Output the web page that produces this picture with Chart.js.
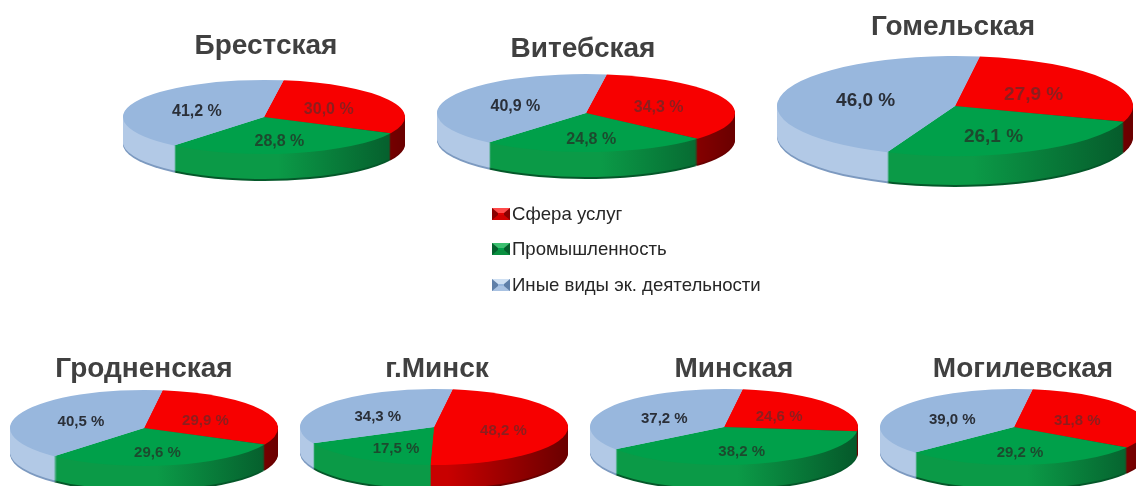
<!DOCTYPE html>
<html lang="ru">
<head>
<meta charset="utf-8">
<title>Структура по регионам</title>
<script src="https://cdn.jsdelivr.net/npm/chart.js@4.4.1/dist/chart.umd.min.js"></script>
<style>
    html, body { margin: 0; padding: 0; background: #fff; }
    body { width: 1136px; height: 486px; position: relative; overflow: hidden; font-family: "Liberation Sans", Arial, sans-serif; }
    .pie { position: absolute; }
    .title { position: absolute; width: 300px; text-align: center; font-weight: bold; font-size: 28px; line-height: 28px; color: #404040; z-index: 3; white-space: nowrap; }
    .legend-row { position: absolute; left: 492px; height: 24px; display: flex; align-items: center; font-size: 18.6px; color: #262626; z-index: 5; white-space: nowrap; }
    .swatch { width: 6px; height: 2px; border-style: solid; border-width: 5px 6px; margin-right: 2px; }
</style>
</head>
<body>
<script>
// Share of employment by sector, per region (%)
const regions = ['Брестская', 'Витебская', 'Гомельская', 'Гродненская', 'г.Минск', 'Минская', 'Могилевская'];
const categories = ['Сфера услуг', 'Промышленность', 'Иные виды эк. деятельности'];
const services = [30.0, 34.3, 27.9, 29.9, 48.2, 24.6, 31.8];
const industry = [28.8, 24.8, 26.1, 29.6, 17.5, 38.2, 29.2];
const other = [41.2, 40.9, 46.0, 40.5, 34.3, 37.2, 39.0];

const topColors = ['#f70000', '#00a04a', '#98b7dd'];
const sideLight = ['#c80000', '#0b9a47', '#b2c9e6'];
const sideDark = ['#6a0000', '#05582a', '#7d9ac0'];
const labelColors = ['#8c1e1e', '#1c4a2e', '#2a2f38'];

// where each pie sits on the page
const layout = [
    { cx: 264, cy: 117, rx: 141, ry: 37, depth: 27, font: 16, titleX: 266, titleY: 55 },
    { cx: 586, cy: 113, rx: 149, ry: 39, depth: 27, font: 16, titleX: 583, titleY: 58 },
    { cx: 955, cy: 106, rx: 178, ry: 50, depth: 31, font: 19, titleX: 953, titleY: 36 },
    { cx: 144, cy: 428, rx: 134, ry: 38, depth: 26, font: 15, titleX: 144, titleY: 378 },
    { cx: 434, cy: 427, rx: 134, ry: 38, depth: 26, font: 15, titleX: 437, titleY: 378 },
    { cx: 724, cy: 427, rx: 134, ry: 38, depth: 26, font: 15, titleX: 734, titleY: 378 },
    { cx: 1014, cy: 427, rx: 134, ry: 38, depth: 26, font: 15, titleX: 1023, titleY: 378 }
];

const fmt = v => v.toFixed(1).replace('.', ',') + ' %';

// Squash the pie into an ellipse and give it a side wall
const pie3d = {
    id: 'pie3d',
    beforeDatasetsDraw(chart, args, opts) {
        const ctx = chart.ctx;
        const arcs = chart.getDatasetMeta(0).data;
        const cx = arcs[0].x, cy = arcs[0].y, r = arcs[0].outerRadius;
        const k = opts.tilt;
        ctx.save();
        ctx.translate(cx, cy);
        ctx.scale(1, k);
        ctx.translate(-cx, -cy);

        const fills = arcs.map((arc, i) => {
            const g = ctx.createLinearGradient(cx - r, 0, cx + r, 0);
            g.addColorStop(0, sideLight[i]);
            g.addColorStop(0.55, sideLight[i]);
            g.addColorStop(1, sideDark[i]);
            return g;
        });

        for (let d = opts.depth; d >= 1; d--) {
            ctx.save();
            ctx.translate(0, d / k);
            arcs.forEach((arc, i) => {
                ctx.beginPath();
                ctx.moveTo(arc.x, arc.y);
                ctx.arc(arc.x, arc.y, arc.outerRadius, arc.startAngle, arc.endAngle);
                ctx.closePath();
                ctx.fillStyle = d > opts.depth - 2 ? sideDark[i] : fills[i];
                ctx.fill();
            });
            ctx.restore();
        }
    },
    afterDatasetsDraw(chart, args, opts) {
        const ctx = chart.ctx;
        ctx.restore();
        const arcs = chart.getDatasetMeta(0).data;
        const values = chart.data.datasets[0].data;
        ctx.save();
        ctx.font = `bold ${opts.font}px "Liberation Sans", Arial, sans-serif`;
        ctx.textAlign = 'center';
        ctx.textBaseline = 'middle';
        arcs.forEach((arc, i) => {
            const mid = (arc.startAngle + arc.endAngle) / 2;
            const rr = arc.outerRadius * 0.52;
            const s = Math.sin(mid);
            const x = arc.x + Math.cos(mid) * rr;
            // front of the pie looks a bit closer, push those labels down
            const y = arc.y + s * rr * opts.tilt * (s > 0 ? 1.2 : 1) + 2;
            ctx.fillStyle = labelColors[i];
            ctx.fillText(fmt(values[i]), x, y);
        });
        ctx.restore();
    }
};

regions.forEach((name, idx) => {
    const L = layout[idx];
    const size = 2 * L.rx;

    const box = document.createElement('div');
    box.className = 'pie';
    box.style.left = (L.cx - L.rx) + 'px';
    box.style.top = (L.cy - L.rx) + 'px';
    const canvas = document.createElement('canvas');
    canvas.width = size;
    canvas.height = size;
    box.appendChild(canvas);
    document.body.appendChild(box);

    new Chart(canvas, {
        type: 'pie',
        data: {
            labels: categories,
            datasets: [{
                data: [services[idx], industry[idx], other[idx]],
                backgroundColor: topColors,
                borderWidth: 0,
                clip: false
            }]
        },
        options: {
            responsive: false,
            animation: false,
            events: [],
            rotation: 8,
            layout: { padding: 0 },
            plugins: {
                legend: { display: false },
                tooltip: { enabled: false },
                pie3d: { tilt: L.ry / L.rx, depth: L.depth, font: L.font }
            }
        },
        plugins: [pie3d]
    });

    const t = document.createElement('div');
    t.className = 'title';
    t.textContent = name;
    t.style.left = (L.titleX - 150) + 'px';
    t.style.top = (L.titleY - 24) + 'px';
    document.body.appendChild(t);
});

// shared legend in the middle
const swatchBorders = [
    ['#ff4a4a', '#8a0000', '#d00000', '#8a0000', '#e00000'],
    ['#3cc070', '#05602d', '#0a9040', '#05602d', '#00a04a'],
    ['#cfe0f3', '#5f7fa8', '#a9c2e2', '#5f7fa8', '#98b7dd']
];
const legendY = [214, 249, 285];
categories.forEach((c, i) => {
    const row = document.createElement('div');
    row.className = 'legend-row';
    row.style.top = (legendY[i] - 12) + 'px';
    const sw = document.createElement('span');
    sw.className = 'swatch';
    const b = swatchBorders[i];
    sw.style.borderColor = `${b[0]} ${b[1]} ${b[2]} ${b[3]}`;
    sw.style.background = b[4];
    row.appendChild(sw);
    row.appendChild(document.createTextNode(c));
    document.body.appendChild(row);
});
</script>
</body>
</html>
